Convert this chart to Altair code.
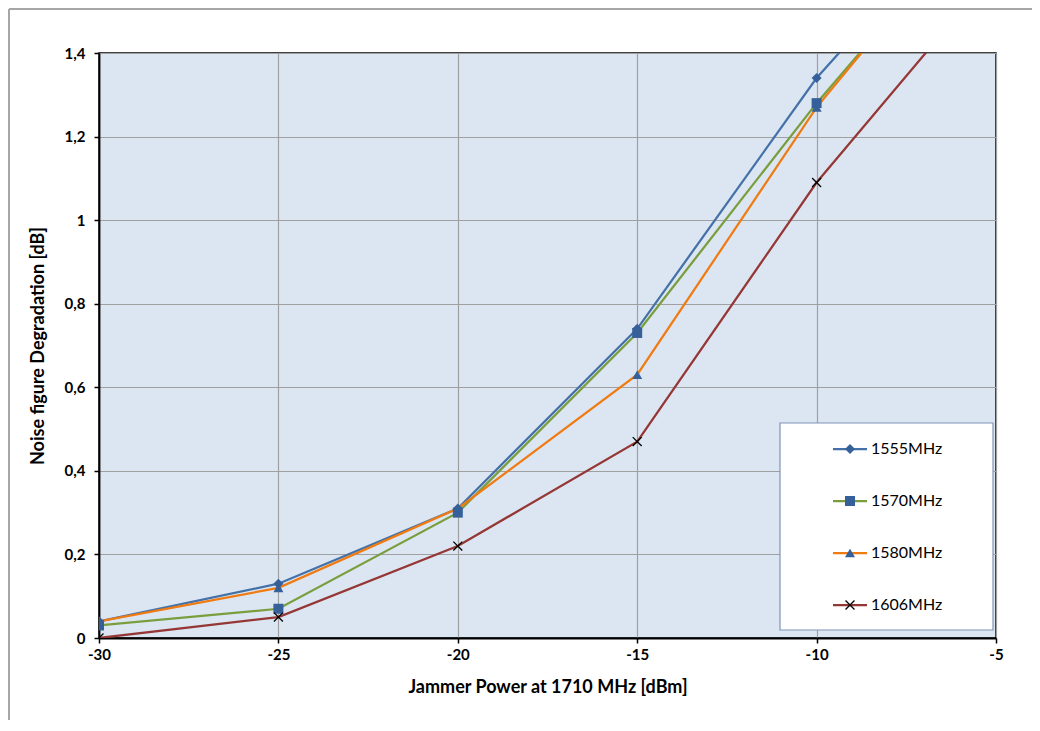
import altair as alt
import pandas as pd

# ---- data ----
x_vals = [-30, -25, -20, -15, -10, -5]
series_names = ["1555MHz", "1570MHz", "1580MHz", "1606MHz"]
v1555 = [0.04, 0.13, 0.31, 0.74, 1.34, 1.82]
v1570 = [0.03, 0.07, 0.30, 0.73, 1.28, 1.78]
v1580 = [0.04, 0.12, 0.31, 0.63, 1.27, 1.79]
v1606 = [0.00, 0.05, 0.22, 0.47, 1.09, 1.60]
x_ticks = [-30, -25, -20, -15, -10, -5]
y_ticks = [0, 0.2, 0.4, 0.6, 0.8, 1.0, 1.2, 1.4]

line_colors = ["#4472a8", "#7a9e3e", "#f07b12", "#953735"]
marker_shapes = ["diamond", "square", "triangle-up", "M-1,-1L1,1M-1,1L1,-1"]
marker_color = "#35609a"
FONT = "Lato"

rows = []
for name, vals in zip(series_names, [v1555, v1570, v1580, v1606]):
    for xv, yv in zip(x_vals, vals):
        rows.append({"series": name, "x": xv, "y": yv})
df = pd.DataFrame(rows)

color_scale = alt.Scale(domain=series_names, range=line_colors)
shape_scale = alt.Scale(domain=series_names, range=marker_shapes)

base = alt.Chart(df).encode(
    x=alt.X("x:Q", scale=alt.Scale(domain=[-30, -5], nice=False, zero=False),
            axis=alt.Axis(values=x_ticks, title="Jammer Power at 1710 MHz [dBm]",
                          labelExpr="toString(datum.value)", labelFlush=False,
                          labelPadding=4, titlePadding=16)),
    y=alt.Y("y:Q", scale=alt.Scale(domain=[0, 1.4], nice=False),
            axis=alt.Axis(values=y_ticks, title="Noise figure Degradation [dB]",
                          labelExpr="replace(toString(datum.value), '.', ',')",
                          labelFlush=False,
                          labelPadding=9, titlePadding=17)),
)

lines = base.mark_line(clip=True, strokeWidth=2.25).encode(
    color=alt.Color("series:N", scale=color_scale, legend=None)
)
pts = base.transform_filter(alt.datum.series != "1606MHz").mark_point(
    filled=True, clip=True, opacity=1, color=marker_color, size=100
).encode(shape=alt.Shape("series:N", scale=shape_scale, legend=None))
xpts = base.transform_filter(alt.datum.series == "1606MHz").mark_point(
    filled=False, clip=True, opacity=1, color="black", size=80, strokeWidth=1.3,
    shape=marker_shapes[3]
)
main = alt.layer(lines, pts, xpts)

# ---- legend (drawn as a layer) ----
leg_df = pd.DataFrame({"series": series_names, "row": [0, 1, 2, 3]})
one = pd.DataFrame({"a": [0]})

box = alt.Chart(one).mark_rect(fill="white", stroke="#8094b4", strokeWidth=1.2).encode(
    x=alt.value(681), x2=alt.value(894), y=alt.value(370), y2=alt.value(577)
)
frame_left = alt.Chart(one).mark_rule(color="#a6a6a6", strokeWidth=2).encode(
    x=alt.value(-90), y=alt.value(-44), y2=alt.value(680)
)
frame_top = alt.Chart(one).mark_rule(color="#a6a6a6", strokeWidth=2).encode(
    x=alt.value(-90), x2=alt.value(940), y=alt.value(-44)
)

leg_base = alt.Chart(leg_df).encode(
    y=alt.Y("row:Q", scale=alt.Scale(domain=[0, 3], range=[396, 552]), axis=None)
)
leg_lines = leg_base.mark_rule(strokeWidth=2.25).encode(
    x=alt.value(734), x2=alt.value(768),
    color=alt.Color("series:N", scale=color_scale, legend=None),
)
leg_pts = leg_base.transform_filter(alt.datum.series != "1606MHz").mark_point(
    filled=True, opacity=1, color=marker_color, size=100
).encode(x=alt.value(751), shape=alt.Shape("series:N", scale=shape_scale, legend=None))
leg_x = leg_base.transform_filter(alt.datum.series == "1606MHz").mark_point(
    filled=False, opacity=1, color="black", size=80, strokeWidth=1.3,
    shape=marker_shapes[3]
).encode(x=alt.value(751))
leg_text = leg_base.mark_text(align="left", baseline="middle", fontSize=16,
                              font=FONT, color="black").encode(
    x=alt.value(772), text="series:N"
)
legend = alt.layer(frame_left, frame_top, box, leg_lines, leg_pts, leg_x, leg_text)

chart = alt.layer(main, legend).resolve_scale(y="independent").properties(
    width=897, height=585,
    background="white",
    autosize=alt.AutoSizeParams(type="none"),
    padding={"left": 91, "top": 45, "right": 36, "bottom": 82},
).configure_view(
    fill="#dce6f2", stroke="black", strokeWidth=1.5
).configure_axis(
    domainColor="black", domainWidth=1.8, tickColor="black", tickSize=5,
    tickWidth=1.5, gridColor="#a0a0a0", gridWidth=1.2,
    labelFont=FONT, labelFontSize=15, labelFontWeight="bold", labelColor="black",
    titleFont=FONT, titleFontSize=18, titleFontWeight="bold", titleColor="black",
)

chart.save("out.html", embed_options={"renderer": "svg", "actions": False})
